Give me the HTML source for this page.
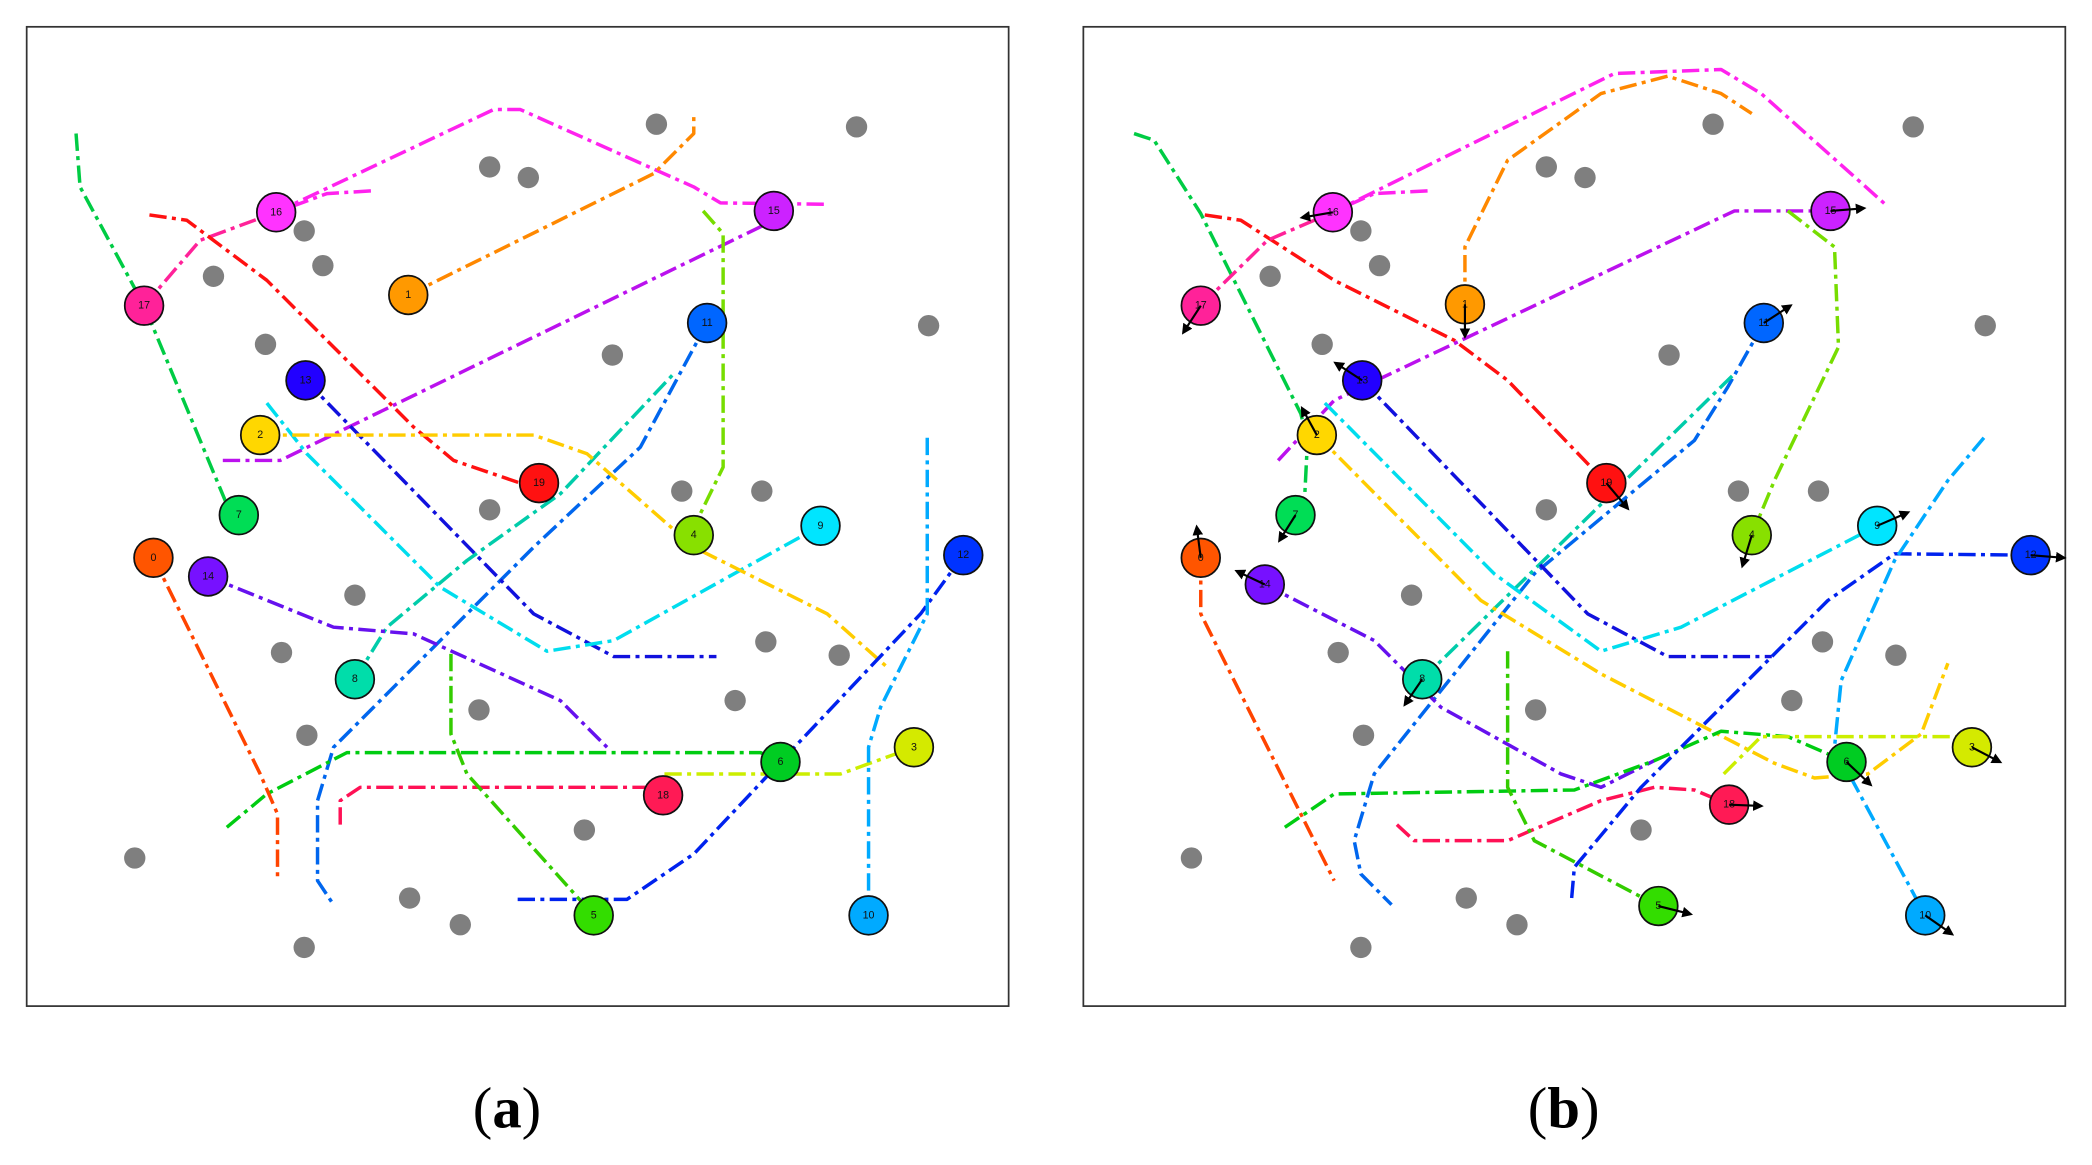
<!DOCTYPE html>
<html><head><meta charset="utf-8"><style>
html,body{margin:0;padding:0;background:#fff;}
svg{display:block;}
.p{fill:none;stroke-width:2.6;stroke-dasharray:13 4 3 4;stroke-linejoin:round;stroke-linecap:butt;}
.g{fill:#7f7f7f;}
.n circle{stroke:#111;stroke-width:1.3;}
.n text{font-family:"Liberation Sans",sans-serif;font-size:8px;text-anchor:middle;dominant-baseline:central;fill:#111;}
.ar{stroke:#000;stroke-width:1.6;marker-end:url(#ah);}
</style></head><body>
<svg width="2092" height="1165" viewBox="0 0 1568 873" xmlns="http://www.w3.org/2000/svg">
<defs><marker id="ah" markerWidth="8" markerHeight="8" refX="6" refY="4" orient="auto" markerUnits="userSpaceOnUse"><path d="M0,0 L8,4 L0,8 z" fill="#000"/></marker></defs>
<rect x="20" y="20" width="736" height="734" fill="none" stroke="#333" stroke-width="1.3"/>
<rect x="812" y="20" width="736" height="734" fill="none" stroke="#333" stroke-width="1.3"/>
<text x="380" y="845" font-family="Liberation Serif,serif" font-size="44" text-anchor="middle">(<tspan font-weight="bold">a</tspan>)</text>
<text x="1172" y="845" font-family="Liberation Serif,serif" font-size="44" text-anchor="middle">(<tspan font-weight="bold">b</tspan>)</text>

<!-- panel a paths -->
<polyline class="p" stroke="#ff22ee" points="278,143 245,145 207,159 370,82 390,82 520,140 540,152 620,153"/>
<polyline class="p" stroke="#ff2299" points="108,229 150,180 207,159"/>
<polyline class="p" stroke="#00cc44" points="57,100 60,140 108,229 170,378"/>
<polyline class="p" stroke="#ff1111" points="112,161 140,165 200,210 310,320 340,345 390,362"/>
<polyline class="p" stroke="#ff8800" points="306,221 490,130 520,100 520,87"/>
<polyline class="p" stroke="#bb11ee" points="167,345 210,345 580,165"/>
<polyline class="p" stroke="#77dd00" points="527,158 542,175 542,350 520,395"/>
<polyline class="p" stroke="#0066ee" points="530,242 480,335 400,410 250,560 238,600 238,660 250,678"/>
<polyline class="p" stroke="#00ccaa" points="266,509 290,470 350,420 420,370 505,280"/>
<polyline class="p" stroke="#1111dd" points="229,285 400,460 460,492 537,492"/>
<polyline class="p" stroke="#00ddee" points="200,302 230,340 330,440 410,488 460,480 615,394"/>
<polyline class="p" stroke="#ffcc00" points="195,326 400,326 440,340 520,410 620,460 665,500"/>
<polyline class="p" stroke="#6611ee" points="156,432 250,470 310,475 420,525 455,560"/>
<polyline class="p" stroke="#00cc11" points="170,620 200,595 260,564 570,564 585,571"/>
<polyline class="p" stroke="#ccee00" points="498,580 630,580 685,560"/>
<polyline class="p" stroke="#ff1155" points="255,618 255,600 270,590 497,590"/>
<polyline class="p" stroke="#33cc00" points="338,490 338,550 350,580 445,686"/>
<polyline class="p" stroke="#0022ee" points="388,674 470,674 520,640 585,571 690,460 722,416"/>
<polyline class="p" stroke="#00aaff" points="695,328 695,460 660,530 651,560 651,686"/>
<polyline class="p" stroke="#ff4400" points="115,418 195,580 208,610 208,660"/>

<!-- panel b paths -->
<polyline class="p" stroke="#ff22ee" points="1070,143 1030,145 999,159 1210,55 1290,52 1320,70 1413,153"/>
<polyline class="p" stroke="#ff8800" points="1098,228 1098,185 1130,120 1200,70 1250,57 1290,70 1313,85"/>
<polyline class="p" stroke="#00cc44" points="850,100 865,105 900,160 975,310 980,330 978,370 971,386"/>
<polyline class="p" stroke="#ff1111" points="903,161 930,165 1000,210 1090,255 1130,285 1204,362"/>
<polyline class="p" stroke="#ff2299" points="900,229 950,180 999,159"/>
<polyline class="p" stroke="#bb11ee" points="958,345 1000,300 1300,158 1372,158"/>
<polyline class="p" stroke="#77dd00" points="1340,158 1375,185 1378,260 1330,360 1313,401"/>
<polyline class="p" stroke="#0066ee" points="1322,242 1295,290 1270,330 1150,430 1030,580 1015,630 1020,655 1043,678"/>
<polyline class="p" stroke="#00ccaa" points="1066,509 1300,280"/>
<polyline class="p" stroke="#1111dd" points="1021,285 1190,460 1250,492 1328,492"/>
<polyline class="p" stroke="#00ddee" points="993,302 1120,430 1200,488 1260,470 1407,394"/>
<polyline class="p" stroke="#ffcc00" points="987,326 1110,450 1200,505 1330,572 1360,583 1400,580 1440,550 1460,497"/>
<polyline class="p" stroke="#6611ee" points="948,438 1030,480 1080,530 1170,580 1200,590 1240,570"/>
<polyline class="p" stroke="#00cc11" points="963,620 1000,595 1180,592 1240,570 1290,548 1340,552 1384,571"/>
<polyline class="p" stroke="#ccee00" points="1292,580 1320,552 1478,552 1478,560"/>
<polyline class="p" stroke="#ff1155" points="1047,618 1060,630 1130,630 1200,600 1240,590 1270,592 1296,603"/>
<polyline class="p" stroke="#33cc00" points="1130,488 1130,590 1150,630 1243,679"/>
<polyline class="p" stroke="#0022ee" points="1178,673 1180,650 1230,590 1370,450 1420,415 1522,416"/>
<polyline class="p" stroke="#00aaff" points="1487,328 1460,360 1420,420 1380,510 1375,560 1443,686"/>
<polyline class="p" stroke="#ff4400" points="900,418 900,460 990,640 1000,660"/>

<!-- gray dots -->
<g class="g">
<circle cx="492" cy="93" r="8"/><circle cx="642" cy="95" r="8"/><circle cx="367" cy="125" r="8"/><circle cx="396" cy="133" r="8"/><circle cx="228" cy="173" r="8"/><circle cx="160" cy="207" r="8"/><circle cx="242" cy="199" r="8"/><circle cx="199" cy="258" r="8"/><circle cx="459" cy="266" r="8"/><circle cx="696" cy="244" r="8"/><circle cx="511" cy="368" r="8"/><circle cx="571" cy="368" r="8"/><circle cx="367" cy="382" r="8"/><circle cx="266" cy="446" r="8"/><circle cx="574" cy="481" r="8"/><circle cx="629" cy="491" r="8"/><circle cx="211" cy="489" r="8"/><circle cx="551" cy="525" r="8"/><circle cx="359" cy="532" r="8"/><circle cx="230" cy="551" r="8"/><circle cx="438" cy="622" r="8"/><circle cx="101" cy="643" r="8"/><circle cx="307" cy="673" r="8"/><circle cx="345" cy="693" r="8"/><circle cx="228" cy="710" r="8"/>
<circle cx="1284" cy="93" r="8"/><circle cx="1434" cy="95" r="8"/><circle cx="1159" cy="125" r="8"/><circle cx="1188" cy="133" r="8"/><circle cx="1020" cy="173" r="8"/><circle cx="952" cy="207" r="8"/><circle cx="1034" cy="199" r="8"/><circle cx="991" cy="258" r="8"/><circle cx="1251" cy="266" r="8"/><circle cx="1488" cy="244" r="8"/><circle cx="1303" cy="368" r="8"/><circle cx="1363" cy="368" r="8"/><circle cx="1159" cy="382" r="8"/><circle cx="1058" cy="446" r="8"/><circle cx="1366" cy="481" r="8"/><circle cx="1421" cy="491" r="8"/><circle cx="1003" cy="489" r="8"/><circle cx="1343" cy="525" r="8"/><circle cx="1151" cy="532" r="8"/><circle cx="1022" cy="551" r="8"/><circle cx="1230" cy="622" r="8"/><circle cx="893" cy="643" r="8"/><circle cx="1099" cy="673" r="8"/><circle cx="1137" cy="693" r="8"/><circle cx="1020" cy="710" r="8"/>
</g>

<!-- nodes a -->
<g class="n">
<circle cx="115" cy="418" r="14.5" fill="#ff5500"/><text x="115" y="418">0</text>
<circle cx="306" cy="221" r="14.5" fill="#ff9900"/><text x="306" y="221">1</text>
<circle cx="195" cy="326" r="14.5" fill="#ffd700"/><text x="195" y="326">2</text>
<circle cx="685" cy="560" r="14.5" fill="#d4ea00"/><text x="685" y="560">3</text>
<circle cx="520" cy="401" r="14.5" fill="#88e000"/><text x="520" y="401">4</text>
<circle cx="445" cy="686" r="14.5" fill="#33dd00"/><text x="445" y="686">5</text>
<circle cx="585" cy="571" r="14.5" fill="#00cc22"/><text x="585" y="571">6</text>
<circle cx="179" cy="386" r="14.5" fill="#00dd55"/><text x="179" y="386">7</text>
<circle cx="266" cy="509" r="14.5" fill="#00ddaa"/><text x="266" y="509">8</text>
<circle cx="615" cy="394" r="14.5" fill="#00e5ff"/><text x="615" y="394">9</text>
<circle cx="651" cy="686" r="14.5" fill="#00aaff"/><text x="651" y="686">10</text>
<circle cx="530" cy="242" r="14.5" fill="#0066ff"/><text x="530" y="242">11</text>
<circle cx="722" cy="416" r="14.5" fill="#0033ff"/><text x="722" y="416">12</text>
<circle cx="229" cy="285" r="14.5" fill="#2200ff"/><text x="229" y="285">13</text>
<circle cx="156" cy="432" r="14.5" fill="#7711ff"/><text x="156" y="432">14</text>
<circle cx="580" cy="158" r="14.5" fill="#cc22ff"/><text x="580" y="158">15</text>
<circle cx="207" cy="159" r="14.5" fill="#ff33ff"/><text x="207" y="159">16</text>
<circle cx="108" cy="229" r="14.5" fill="#ff2299"/><text x="108" y="229">17</text>
<circle cx="497" cy="596" r="14.5" fill="#ff1a55"/><text x="497" y="596">18</text>
<circle cx="404" cy="362" r="14.5" fill="#ff1111"/><text x="404" y="362">19</text>
</g>
<!-- nodes b -->
<g class="n">
<circle cx="900" cy="418" r="14.5" fill="#ff5500"/><text x="900" y="418">0</text>
<circle cx="1098" cy="228" r="14.5" fill="#ff9900"/><text x="1098" y="228">1</text>
<circle cx="987" cy="326" r="14.5" fill="#ffd700"/><text x="987" y="326">2</text>
<circle cx="1478" cy="560" r="14.5" fill="#d4ea00"/><text x="1478" y="560">3</text>
<circle cx="1313" cy="401" r="14.5" fill="#88e000"/><text x="1313" y="401">4</text>
<circle cx="1243" cy="679" r="14.5" fill="#33dd00"/><text x="1243" y="679">5</text>
<circle cx="1384" cy="571" r="14.5" fill="#00cc22"/><text x="1384" y="571">6</text>
<circle cx="971" cy="386" r="14.5" fill="#00dd55"/><text x="971" y="386">7</text>
<circle cx="1066" cy="509" r="14.5" fill="#00ddaa"/><text x="1066" y="509">8</text>
<circle cx="1407" cy="394" r="14.5" fill="#00e5ff"/><text x="1407" y="394">9</text>
<circle cx="1443" cy="686" r="14.5" fill="#00aaff"/><text x="1443" y="686">10</text>
<circle cx="1322" cy="242" r="14.5" fill="#0066ff"/><text x="1322" y="242">11</text>
<circle cx="1522" cy="416" r="14.5" fill="#0033ff"/><text x="1522" y="416">12</text>
<circle cx="1021" cy="285" r="14.5" fill="#2200ff"/><text x="1021" y="285">13</text>
<circle cx="948" cy="438" r="14.5" fill="#7711ff"/><text x="948" y="438">14</text>
<circle cx="1372" cy="158" r="14.5" fill="#cc22ff"/><text x="1372" y="158">15</text>
<circle cx="999" cy="159" r="14.5" fill="#ff33ff"/><text x="999" y="159">16</text>
<circle cx="900" cy="229" r="14.5" fill="#ff2299"/><text x="900" y="229">17</text>
<circle cx="1296" cy="603" r="14.5" fill="#ff1a55"/><text x="1296" y="603">18</text>
<circle cx="1204" cy="362" r="14.5" fill="#ff1111"/><text x="1204" y="362">19</text>
</g>
<!-- arrows b -->
<g>
<line class="ar" x1="900" y1="418" x2="897" y2="395"/>
<line class="ar" x1="1098" y1="228" x2="1098" y2="252"/>
<line class="ar" x1="987" y1="326" x2="976" y2="306"/>
<line class="ar" x1="1478" y1="560" x2="1499" y2="571"/>
<line class="ar" x1="1313" y1="401" x2="1306" y2="424"/>
<line class="ar" x1="1243" y1="679" x2="1267" y2="685"/>
<line class="ar" x1="1384" y1="571" x2="1402" y2="588"/>
<line class="ar" x1="971" y1="386" x2="959" y2="405"/>
<line class="ar" x1="1066" y1="509" x2="1053" y2="528"/>
<line class="ar" x1="1407" y1="394" x2="1430" y2="384"/>
<line class="ar" x1="1443" y1="686" x2="1463" y2="700"/>
<line class="ar" x1="1322" y1="242" x2="1342" y2="229"/>
<line class="ar" x1="1522" y1="416" x2="1547" y2="418"/>
<line class="ar" x1="1021" y1="285" x2="1001" y2="272"/>
<line class="ar" x1="948" y1="438" x2="927" y2="428"/>
<line class="ar" x1="1372" y1="158" x2="1397" y2="156"/>
<line class="ar" x1="999" y1="159" x2="976" y2="163"/>
<line class="ar" x1="900" y1="229" x2="887" y2="249"/>
<line class="ar" x1="1296" y1="603" x2="1320" y2="604"/>
<line class="ar" x1="1204" y1="362" x2="1220" y2="381"/>
</g>
</svg>
</body></html>
